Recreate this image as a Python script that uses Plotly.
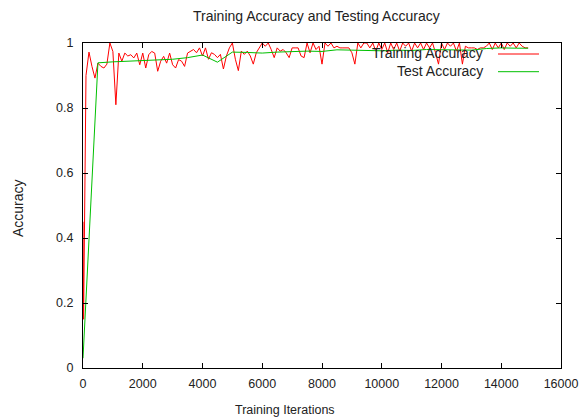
import plotly.graph_objects as go

# Training accuracy (logged every 100 iterations, plus an extra early point)
train_iters = [0, 20] + list(range(100, 15000, 100))
train_acc = [
    0.45, 0.15,
    0.90, 0.972, 0.928, 0.892, 0.938, 0.928, 0.923, 0.935, 1.0,          # 100-900
    0.974, 0.81, 0.969, 0.944, 0.969, 0.96, 0.964, 0.954, 0.969, 0.933,  # 1000-1900
    0.969, 0.923, 0.964, 0.974, 0.969, 0.913, 0.944, 0.959, 0.938, 0.969, # 2000-2900
    0.933, 0.923, 0.949, 0.944, 0.928, 0.969, 0.974, 0.98, 0.97, 0.985,   # 3000-3900
    0.96, 0.985, 0.95, 0.97, 0.965, 0.955, 0.965, 0.92, 0.96, 0.985,      # 4000-4900
    1.0, 0.95, 0.915, 0.975, 0.965, 0.975, 0.96, 0.935, 0.97, 0.985,      # 5000-5900
    1.0, 0.99, 1.0, 0.98, 0.955, 0.985, 0.975, 0.98, 0.97, 0.955,         # 6000-6900
    0.985, 0.985, 0.985, 0.96, 0.955, 1.0, 0.97, 1.0, 0.98, 0.99,         # 7000-7900
    0.935, 1.0, 0.99, 1.0, 0.985, 0.99, 0.985, 0.985, 0.985, 0.985,       # 8000-8900
    0.97, 0.935, 1.0, 0.985, 1.0, 1.0, 0.985, 1.0, 0.975, 1.0,            # 9000-9900
    0.98, 1.0, 0.97, 1.0, 0.98, 1.0, 0.975, 1.0, 0.99, 1.0,               # 10000-10900
    0.975, 1.0, 0.985, 1.0, 0.98, 1.0, 0.985, 1.0, 0.97, 0.935,           # 11000-11900
    1.0, 0.98, 1.0, 0.99, 1.0, 0.975, 1.0, 0.935, 0.99, 0.985,            # 12000-12900
    0.985, 0.985, 0.98, 0.985, 0.985, 0.99, 1.0, 0.98, 1.0, 0.985,        # 13000-13900
    1.0, 0.98, 1.0, 0.99, 1.0, 0.985, 1.0, 0.99, 0.985, 0.985,            # 14000-14900
]

# Test accuracy (every 500 iterations)
test_iters = list(range(0, 15000, 500)) + [14900]
test_acc = [
    0.03, 0.939, 0.942, 0.944, 0.947, 0.948, 0.95, 0.955, 0.963, 0.941,
    0.972, 0.971, 0.969, 0.972, 0.974, 0.975, 0.974, 0.979, 0.978, 0.976,
    0.976, 0.978, 0.977, 0.98, 0.979, 0.978, 0.978, 0.983, 0.985, 0.984,
    0.984,
]

x_ticks = list(range(0, 16001, 2000))
x_tick_labels = [str(v) for v in x_ticks]
y_ticks = [0, 0.2, 0.4, 0.6, 0.8, 1]
y_tick_labels = ["0", "0.2", "0.4", "0.6", "0.8", "1"]

FONT = "Liberation Sans, Arial, sans-serif"
TXT = "#222"
RED = "#ff0000"
GREEN = "#00c000"

fig = go.Figure()
fig.add_trace(go.Scatter(x=train_iters, y=train_acc, mode="lines",
                         line=dict(color=RED, width=1), name="Training Accuracy"))
fig.add_trace(go.Scatter(x=test_iters, y=test_acc, mode="lines",
                         line=dict(color=GREEN, width=1), name="Test Accuracy"))

axis_common = dict(showline=True, linecolor="black", linewidth=1, mirror="ticks",
                   ticks="inside", ticklen=5, tickcolor="black", showgrid=False,
                   zeroline=False, automargin=False,
                   tickfont=dict(family=FONT, size=12.5, color=TXT))
fig.update_xaxes(range=[0, 16000], tickvals=x_ticks, ticktext=x_tick_labels,
                 ticklabelstandoff=4, **axis_common)
fig.update_yaxes(range=[0, 1], tickvals=y_ticks, ticktext=y_tick_labels,
                 ticklabelstandoff=6, **axis_common)

annotations = [
    dict(text="Training Accuracy and Testing Accuracy", x=(316.5 - 83) / 478, y=(368 - 16) / 325,
         xref="paper", yref="paper", xanchor="center", yanchor="middle",
         showarrow=False, font=dict(family=FONT, size=14, color=TXT)),
    dict(text="Training Iterations", x=(285 - 83) / 478, y=-(410 - 368) / 325,
         xref="paper", yref="paper", xanchor="center", yanchor="middle",
         showarrow=False, font=dict(family=FONT, size=12.5, color=TXT)),
    dict(text="Accuracy", x=-(83 - 18) / 478, y=(368 - 208) / 325, textangle=-90,
         xref="paper", yref="paper", xanchor="center", yanchor="middle",
         showarrow=False, font=dict(family=FONT, size=14, color=TXT)),
    dict(text="Training Accuracy", x=(484.5 - 83) / 478, y=(368 - 53.5) / 325,
         xref="paper", yref="paper", xanchor="right", yanchor="middle",
         showarrow=False, font=dict(family=FONT, size=14, color=TXT)),
    dict(text="Test Accuracy", x=(484.5 - 83) / 478, y=(368 - 71) / 325,
         xref="paper", yref="paper", xanchor="right", yanchor="middle",
         showarrow=False, font=dict(family=FONT, size=14, color=TXT)),
]
shapes = [
    dict(type="line", xref="paper", yref="paper", x0=(498 - 83) / 478, x1=(539 - 83) / 478,
         y0=(368 - 54) / 325, y1=(368 - 54) / 325, line=dict(color=RED, width=1)),
    dict(type="line", xref="paper", yref="paper", x0=(498 - 83) / 478, x1=(539 - 83) / 478,
         y0=(368 - 71.7) / 325, y1=(368 - 71.7) / 325, line=dict(color=GREEN, width=1)),
]

fig.update_layout(
    width=581, height=418,
    margin=dict(l=83, r=20, t=43, b=50, autoexpand=False),
    paper_bgcolor="white", plot_bgcolor="white",
    showlegend=False,
    annotations=annotations, shapes=shapes,
    font=dict(family=FONT, size=12, color=TXT),
)

fig.write_html("out.html", config={"displayModeBar": False},
               post_script="document.body.style.margin='0';document.body.style.overflow='hidden';")
